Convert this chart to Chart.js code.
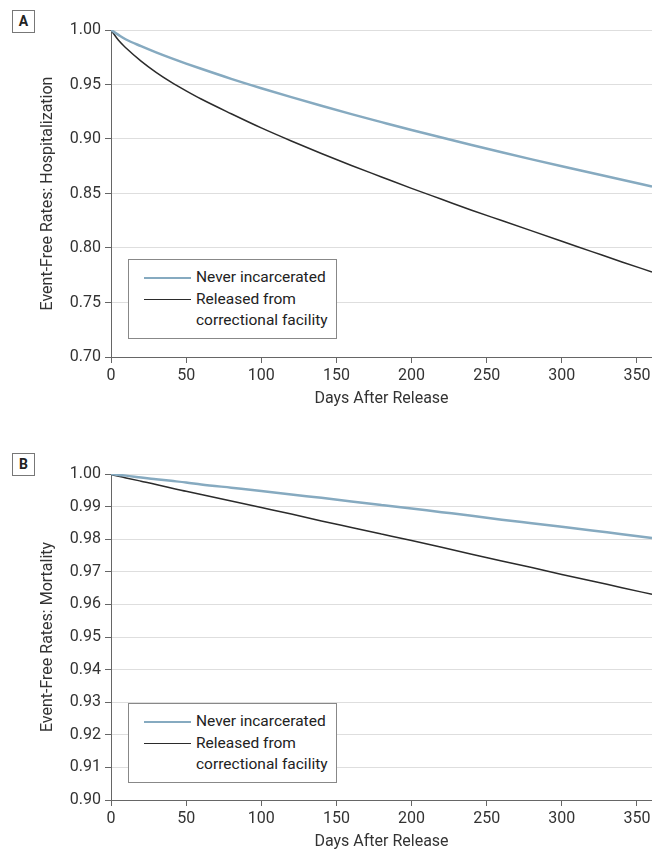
<!DOCTYPE html>
<html>
<head>
<meta charset="utf-8">
<script src="https://cdn.jsdelivr.net/npm/chart.js@4.4.1/dist/chart.umd.min.js"></script>
<style>
  body { margin: 0; background: #fff; }
  #page { position: relative; width: 652px; height: 857px; overflow: hidden; font-family: Roboto, 'Liberation Sans', sans-serif; }
  canvas { position: absolute; left: 0; }
  .tag { position: absolute; left: 12px; width: 21px; height: 21px; border: 1px solid #777; font-weight: bold; font-size: 14px; text-align: center; line-height: 21px; color: #222; }
  .legend { position: absolute; left: 128px; border: 1px solid #888; background: #fff; padding-top: 7px; box-sizing: border-box; height: 80px; width: 209px; }
  .row { position: relative; height: 21.5px; line-height: 21.5px; font-size: 15.5px; color: #222; padding-left: 67px; white-space: nowrap; }
  .swatch { position: absolute; left: 15px; top: 10px; width: 47px; }
</style>
</head>
<body>
<div id="page">
  <div class="tag" style="top:10px">A</div>
  <div class="tag" style="top:453px">B</div>
  <canvas id="hosp" width="652" height="415" style="top:0"></canvas>
  <canvas id="mort" width="652" height="428" style="top:430px"></canvas>
  <div class="legend" id="legA" style="top:259px"></div>
  <div class="legend" id="legB" style="top:703px"></div>
</div>
<script>
var days = [0, 5, 10, 20, 30, 40, 50, 60, 80, 100, 120, 140, 160, 180, 200, 220, 240, 260, 280, 300, 320, 340, 360];

// panel A: hospitalization
var hospNever = [1.000, 0.9955, 0.9913, 0.9852, 0.9795, 0.9742, 0.9692, 0.9644, 0.9552, 0.9466, 0.9384, 0.9305, 0.9228, 0.9155, 0.9083, 0.9014, 0.8945, 0.8878, 0.8813, 0.8750, 0.8688, 0.8626, 0.8565];
var hospReleased = [1.000, 0.9905, 0.9835, 0.9715, 0.9612, 0.9522, 0.9442, 0.9367, 0.9232, 0.9102, 0.8982, 0.8867, 0.8757, 0.8652, 0.8547, 0.8447, 0.8347, 0.8252, 0.8157, 0.8062, 0.7967, 0.7872, 0.7780];

// panel B: mortality
var mortNever = [1.0000, 0.9997, 0.9995, 0.9989, 0.9984, 0.9979, 0.9974, 0.9968, 0.9958, 0.9948, 0.9937, 0.9927, 0.9916, 0.9905, 0.9894, 0.9883, 0.9872, 0.9860, 0.9849, 0.9838, 0.9827, 0.9815, 0.9804];
var mortReleased = [0.9998, 0.9993, 0.9988, 0.9978, 0.9968, 0.9957, 0.9947, 0.9937, 0.9917, 0.9897, 0.9877, 0.9856, 0.9836, 0.9816, 0.9796, 0.9775, 0.9754, 0.9733, 0.9713, 0.9692, 0.9672, 0.9651, 0.9631];

var seriesLabels = ['Never incarcerated', 'Released from\ncorrectional facility'];
var seriesColors = ['#86aac0', '#2b2b2b'];
var xTicks = [0, 50, 100, 150, 200, 250, 300, 350];
var hospTicks = [0.70, 0.75, 0.80, 0.85, 0.90, 0.95, 1.00];
var mortTicks = [0.90, 0.91, 0.92, 0.93, 0.94, 0.95, 0.96, 0.97, 0.98, 0.99, 1.00];

var font = "Roboto, 'Liberation Sans', sans-serif";

function pts(vals) {
  return days.map(function(d, i) { return { x: d, y: vals[i] }; });
}

function makeChart(id, never, released, yTicks, yTitle, topPad) {
  var ctx = document.getElementById(id).getContext('2d');
  return new Chart(ctx, {
    type: 'line',
    data: {
      datasets: [{
        label: seriesLabels[0],
        data: pts(never),
        borderColor: seriesColors[0],
        borderWidth: 2.5,
        pointRadius: 0,
        cubicInterpolationMode: 'monotone'
      }, {
        label: seriesLabels[1],
        data: pts(released),
        borderColor: seriesColors[1],
        borderWidth: 1.5,
        pointRadius: 0,
        cubicInterpolationMode: 'monotone'
      }]
    },
    options: {
      responsive: false,
      animation: false,
      layout: { padding: { top: topPad, right: 0, left: 0, bottom: 0 } },
      plugins: { legend: { display: false }, tooltip: { enabled: false } },
      scales: {
        x: {
          type: 'linear',
          min: 0,
          max: 360,
          afterBuildTicks: function(scale) { scale.ticks = xTicks.map(function(v) { return { value: v }; }); },
          afterFit: function(scale) { scale.height = 58; scale.paddingRight = 0; scale.paddingLeft = 0; },
          grid: { drawOnChartArea: false, tickLength: 6, tickColor: '#666' },
          border: { color: '#666', width: 1 },
          ticks: { padding: 3, color: '#333', font: { family: font, size: 16 } },
          title: { display: true, text: 'Days After Release', color: '#333', padding: { bottom: 6, top: 0 }, font: { family: font, size: 16 } }
        },
        y: {
          min: yTicks[0],
          max: yTicks[yTicks.length - 1],
          afterBuildTicks: function(scale) { scale.ticks = yTicks.map(function(v) { return { value: v }; }); },
          afterFit: function(scale) { scale.width = 111; },
          grid: { color: '#dedede', tickLength: 6, tickColor: '#666' },
          border: { color: '#666', width: 1 },
          ticks: { padding: 4, color: '#333', font: { family: font, size: 16 }, callback: function(v) { return Number(v).toFixed(2); } },
          title: { display: true, text: yTitle, color: '#333', padding: { top: 38, bottom: 0 }, font: { family: font, size: 16 } }
        }
      }
    }
  });
}

function makeLegend(id) {
  var el = document.getElementById(id);
  var html = '';
  seriesLabels.forEach(function(lab, i) {
    var lines = lab.split('\n');
    html += '<div class="row"><div class="swatch" style="border-top:' + (i === 0 ? 2.5 : 1.5) + 'px solid ' + seriesColors[i] + '"></div>' + lines[0] + '</div>';
    for (var k = 1; k < lines.length; k++) html += '<div class="row">' + lines[k] + '</div>';
  });
  el.innerHTML = html;
}

makeChart('hosp', hospNever, hospReleased, hospTicks, 'Event-Free Rates: Hospitalization', 30);
makeChart('mort', mortNever, mortReleased, mortTicks, 'Event-Free Rates: Mortality', 44);
makeLegend('legA');
makeLegend('legB');
</script>
</body>
</html>
